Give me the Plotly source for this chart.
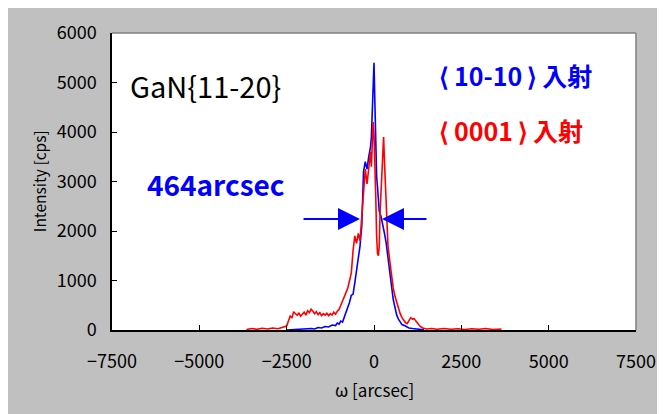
import plotly.graph_objects as go

# ---- data ----
blue_x = [-2500, -2300, -2100, -1900, -1800, -1700, -1600, -1500, -1400, -1300, -1200, -1100,
          -1050, -1000, -950, -900, -850, -800, -750, -700, -650, -600, -550, -500, -450, -400,
          -350, -300, -250, -200, -150, -100, -75, -50, -25, 0, 25, 50, 75, 100, 125, 150, 200,
          250, 300, 350, 400, 450, 500, 550, 600, 650, 700, 750, 800, 900, 1000, 1100, 1200,
          1300, 1430]
blue_y = [0, 10, 20, 15, 30, 20, 50, 40, 70, 60, 100, 90,
          140, 120, 180, 160, 250, 380, 470, 560, 700, 720, 950, 1200, 1350, 1700,
          2100, 3200, 3400, 3250, 3500, 3700, 3900, 4500, 4900, 5400, 4600, 3600, 3100, 2900, 2500, 2400, 2300,
          2150, 1950, 1750, 1500, 1250, 900, 620, 420, 300, 220, 170, 110, 80, 40, 30, 20,
          15, 5]

red_x = [-3650, -3500, -3350, -3200, -3050, -2900, -2750, -2600, -2500, -2450, -2400, -2350,
         -2300, -2250, -2200, -2150, -2100, -2050, -2000, -1950, -1900, -1850, -1800, -1750,
         -1700, -1650, -1600, -1550, -1500, -1450, -1400, -1350, -1300, -1250, -1200, -1150,
         -1100, -1050, -1000, -950, -900, -850, -800, -750, -700, -650, -600, -550, -500, -450,
         -400, -350, -300, -250, -200, -150, -100, -75, -50, -25, 0, 25, 50, 75, 100, 125, 150,
         175, 200, 225, 250, 275, 300, 325, 350, 375, 400, 450, 500, 550, 600, 650, 700, 750,
         800, 850, 900, 950, 1000, 1050, 1100, 1150, 1200, 1250, 1300, 1350, 1400, 1500, 1650,
         1800, 2000, 2200, 2400, 2600, 2800, 3000, 3200, 3400, 3650]
red_y = [10, 30, 15, 35, 20, 40, 25, 50, 80, 180, 280, 250,
         370, 330, 300, 340, 280, 320, 360, 300, 390, 350, 420, 380,
         330, 370, 310, 350, 290, 330, 300, 340, 290, 330, 300, 360,
         320, 380, 420, 500, 580, 650, 760, 850, 1000, 1150, 1600, 1900, 1750, 1950,
         1800, 2300, 2800, 3250, 2950, 3350, 3600, 3300, 3850, 4200, 3950, 3500, 2700, 1900, 1550, 1500, 1700,
         2400, 2800, 3000, 3500, 3900, 3400, 3000, 2500, 2100, 1700, 1400, 1050, 850, 680, 550, 450, 330,
         250, 200, 150, 130, 200, 250, 220, 230, 180, 120, 90, 60, 40, 20, 30,
         15, 30, 15, 25, 10, 25, 15, 30, 10, 20]

x_ticks = [-7500, -5000, -2500, 0, 2500, 5000, 7500]
y_ticks = [0, 1000, 2000, 3000, 4000, 5000, 6000]

FONT = "Noto Sans CJK JP"
TS = "\u2009"  # thin space

fig = go.Figure()
fig.add_trace(go.Scatter(x=blue_x, y=blue_y, mode="lines",
                         line=dict(color="#0000ff", width=1.6), showlegend=False))
fig.add_trace(go.Scatter(x=red_x, y=red_y, mode="lines",
                         line=dict(color="#ff0000", width=1.6), showlegend=False))

shapes = [
    # grey top / right frame
    dict(type="line", xref="paper", yref="paper", x0=0, x1=1, y0=1, y1=1,
         line=dict(color="#808080", width=1.5)),
    dict(type="line", xref="paper", yref="paper", x0=1, x1=1, y0=0, y1=1,
         line=dict(color="#808080", width=1.5)),
]

annotations = [
    dict(text="GaN{11-20}", xref="paper", yref="paper", x=0.030, y=0.825,
         xanchor="left", yanchor="middle", showarrow=False,
         font=dict(family=FONT, size=29, color="#000000")),
    dict(text="<b>464arcsec</b>", xref="paper", yref="paper", x=0.063, y=0.492,
         xanchor="left", yanchor="middle", showarrow=False,
         font=dict(family=FONT, size=28, color="#0000ff")),
    dict(text="<b>⟨" + TS + "10-10" + TS + "⟩" + TS + "入射</b>", xref="paper", yref="paper",
         x=0.620, y=0.859, xanchor="left", yanchor="middle", showarrow=False,
         font=dict(family=FONT, size=25, color="#0000ff")),
    dict(text="<b>⟨" + TS + "0001" + TS + "⟩" + TS + "入射</b>", xref="paper", yref="paper",
         x=0.620, y=0.673, xanchor="left", yanchor="middle", showarrow=False,
         font=dict(family=FONT, size=25, color="#ff0000")),
    dict(text="", xref="x", yref="y", axref="x", ayref="y", x=-400, y=2240, ax=-2060, ay=2240,
         showarrow=True, arrowhead=2, arrowsize=2.2, arrowwidth=2, arrowcolor="#0000ff"),
    dict(text="", xref="x", yref="y", axref="x", ayref="y", x=230, y=2240, ax=1546, ay=2240,
         showarrow=True, arrowhead=2, arrowsize=2.2, arrowwidth=2, arrowcolor="#0000ff"),
    # axis titles
    dict(text="ω [arcsec]", xref="paper", yref="paper", x=0.5, y=-0.202,
         xanchor="center", yanchor="middle", showarrow=False,
         font=dict(family=FONT, size=17, color="#000000")),
    dict(text="Intensity [cps]", xref="paper", yref="paper", x=-0.140, y=0.5,
         xanchor="center", yanchor="middle", showarrow=False, textangle=-90,
         font=dict(family=FONT, size=15.5, color="#000000")),
]

fig.update_layout(
    width=665, height=414,
    margin=dict(l=104, r=37, t=25, b=92),
    paper_bgcolor="#c0c0c0", plot_bgcolor="#ffffff",
    font=dict(family=FONT, color="#000000"),
    shapes=shapes, annotations=annotations,
    xaxis=dict(range=[-7500, 7500], tickvals=x_ticks, showgrid=False, zeroline=False,
               showline=True, linecolor="#000000", linewidth=1.5, mirror=False,
               ticks="inside", ticklen=5, tickcolor="#000000", automargin=False,
               tickfont=dict(family=FONT, size=18), ticklabelstandoff=15),
    yaxis=dict(range=[0, 6000], tickvals=y_ticks, showgrid=False, zeroline=False,
               showline=True, linecolor="#000000", linewidth=1.5, mirror=False,
               ticks="inside", ticklen=5, tickcolor="#000000", automargin=False,
               tickfont=dict(family=FONT, size=18), ticklabelstandoff=10),
)

fig.write_html("out.html")
